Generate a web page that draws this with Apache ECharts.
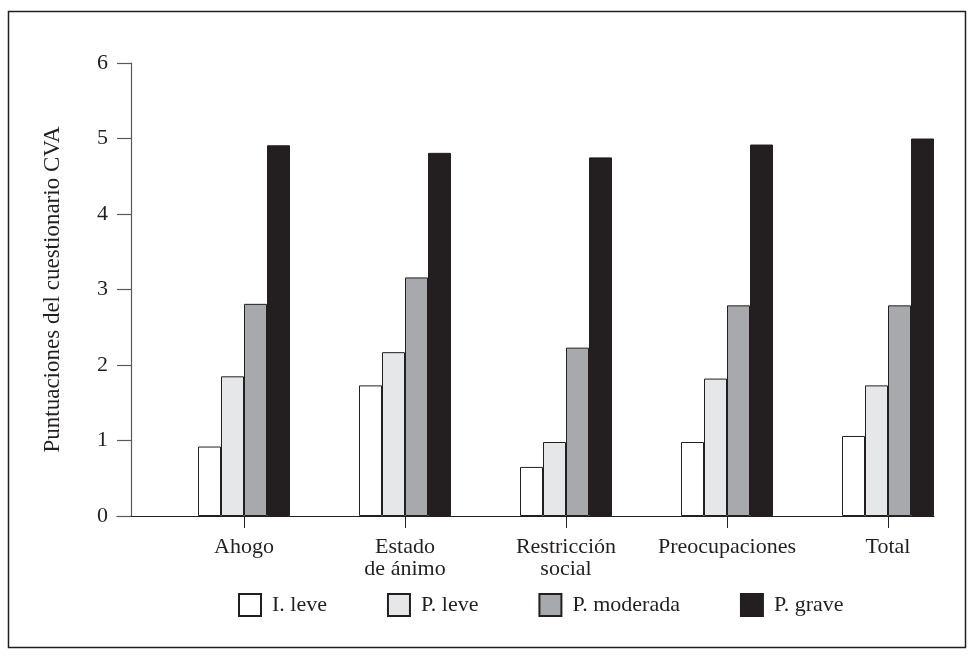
<!DOCTYPE html>
<html>
<head>
<meta charset="utf-8">
<script src="https://cdn.jsdelivr.net/npm/echarts@6/dist/echarts.min.js"></script>
<style>
html,body{margin:0;padding:0;background:#fff;}
#chart{width:975px;height:658px;}
</style>
</head>
<body>
<div id="chart"></div>
<script>
const categories = ['Ahogo', 'Estado\nde ánimo', 'Restricción\nsocial', 'Preocupaciones', 'Total'];
const seriesNames = ['I. leve', 'P. leve', 'P. moderada', 'P. grave'];
const iLeve = [0.92, 1.73, 0.65, 0.98, 1.06];
const pLeve = [1.85, 2.17, 0.98, 1.82, 1.73];
const pModerada = [2.81, 3.16, 2.23, 2.79, 2.79];
const pGrave = [4.91, 4.81, 4.75, 4.92, 5.00];
const yTicks = [0, 1, 2, 3, 4, 5, 6];

const FONT = '"Liberation Serif", "DejaVu Serif", serif';
const INK = '#231f20';
const fills = ['#ffffff', '#e6e7e8', '#a7a9ac', '#231f20'];
const values = [iLeve, pLeve, pModerada, pGrave];

const chart = echarts.init(document.getElementById('chart'), null, {renderer: 'canvas'});

const series = values.map((v, i) => ({
  name: seriesNames[i],
  type: 'bar',
  xAxisIndex: 0,
  yAxisIndex: 0,
  data: v,
  barWidth: 23,
  barGap: '0%',
  itemStyle: {color: fills[i], borderColor: INK, borderWidth: 1},
  emphasis: {disabled: true},
  silent: true
}));

chart.setOption({
  animation: false,
  backgroundColor: '#ffffff',
  textStyle: {fontFamily: FONT},
  graphic: [{
    type: 'rect',
    shape: {x: 8.5, y: 11.5, width: 957, height: 636},
    style: {fill: 'none', stroke: INK, lineWidth: 1.5},
    silent: true,
    z: -10
  }],
  grid: [
    {left: 163.5, right: 6.5, top: 63, bottom: 142},
    {left: 117, right: 41, top: 63, bottom: 142}
  ],
  legend: {
    data: seriesNames,
    left: 238,
    top: 593,
    padding: 0,
    itemWidth: 22,
    itemHeight: 22,
    itemGap: 60,
    icon: 'rect',
    selectedMode: false,
    textStyle: {fontFamily: FONT, fontSize: 22, color: INK, padding: [0, 0, 0, 6]}
  },
  xAxis: [
    {
      type: 'category',
      gridIndex: 0,
      data: categories,
      boundaryGap: true,
      axisLine: {show: false},
      axisTick: {show: true, alignWithLabel: true, length: 12, lineStyle: {color: INK, width: 1}},
      axisLabel: {
        interval: 0,
        margin: 20,
        fontFamily: FONT,
        fontSize: 22,
        lineHeight: 22,
        color: INK
      },
      splitLine: {show: false}
    },
    {
      type: 'value',
      gridIndex: 1,
      min: 0,
      max: 1,
      axisLine: {show: true, lineStyle: {color: INK, width: 1.2}},
      axisTick: {show: false},
      axisLabel: {show: false},
      splitLine: {show: false}
    }
  ],
  yAxis: [
    {
      type: 'value',
      gridIndex: 0,
      min: yTicks[0],
      max: yTicks[yTicks.length - 1],
      interval: 1,
      offset: 32.5,
      name: 'Puntuaciones del cuestionario CVA',
      nameLocation: 'middle',
      nameGap: 67,
      nameTextStyle: {fontFamily: FONT, fontSize: 23, color: INK},
      axisLine: {show: true, lineStyle: {color: '#58595b', width: 1.2}},
      axisTick: {show: true, length: 14, lineStyle: {color: '#58595b', width: 1.2}},
      axisLabel: {margin: 23, fontFamily: FONT, fontSize: 22, color: INK},
      splitLine: {show: false}
    },
    {
      type: 'value',
      gridIndex: 1,
      show: false
    }
  ],
  series: series
});
</script>
</body>
</html>
